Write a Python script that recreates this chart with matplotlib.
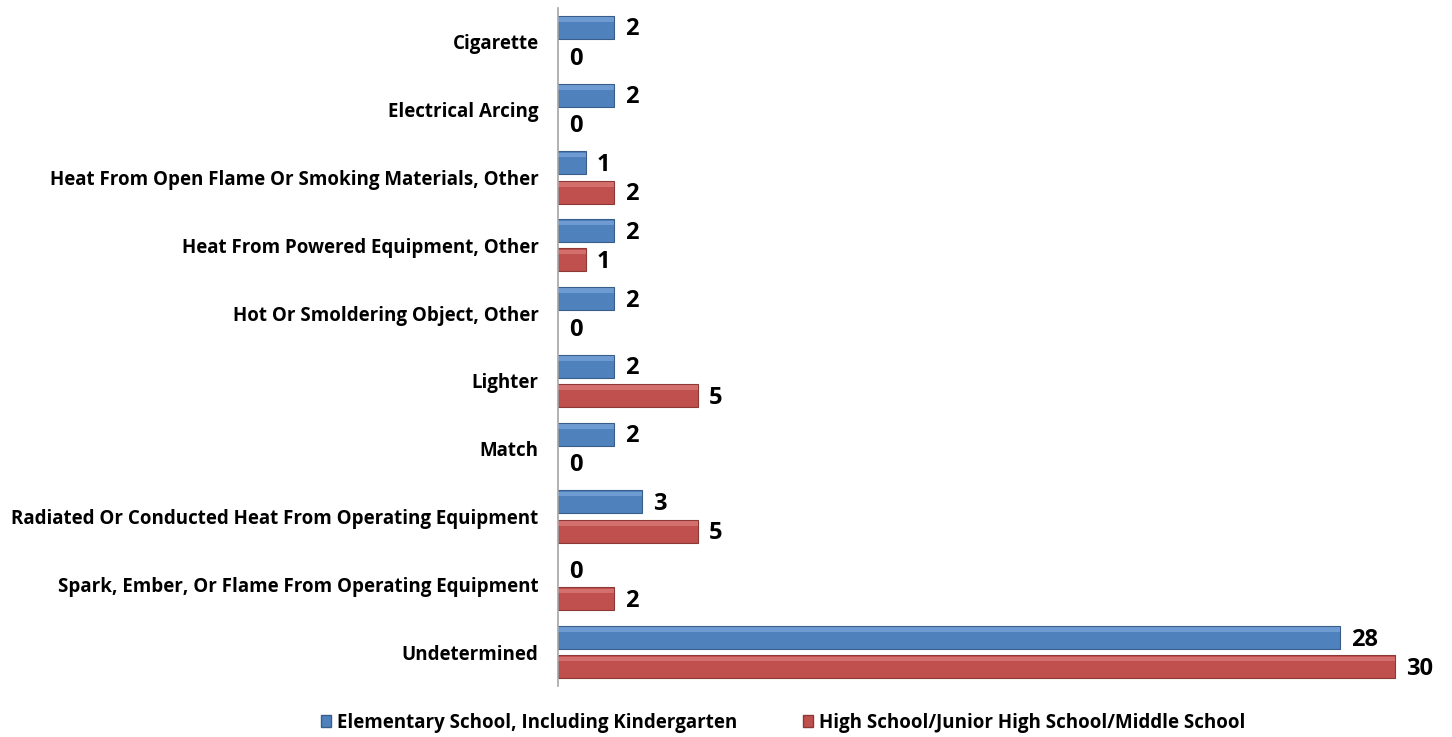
import matplotlib
matplotlib.use("Agg")
import matplotlib.pyplot as plt
import numpy as np
from matplotlib.patches import Patch

categories = [
    "Cigarette",
    "Electrical Arcing",
    "Heat From Open Flame Or Smoking Materials, Other",
    "Heat From Powered Equipment, Other",
    "Hot Or Smoldering Object, Other",
    "Lighter",
    "Match",
    "Radiated Or Conducted Heat From Operating Equipment",
    "Spark, Ember, Or Flame From Operating Equipment",
    "Undetermined",
]
elementary = [2, 2, 1, 2, 2, 2, 2, 3, 0, 28]
high_school = [0, 0, 2, 1, 0, 5, 0, 5, 2, 30]
series_names = ["Elementary School, Including Kindergarten",
                "High School/Junior High School/Middle School"]

blue = "#4F81BD"
red = "#C0504D"
blue_edge = "#385D8A"
red_edge = "#8C3836"

plt.rcParams['font.family'] = ['Open Sans', 'DejaVu Sans']

fig = plt.figure(figsize=(14.52, 7.37), dpi=100)
ax = fig.add_axes([558/1452, 51/737, 882/1452, 678/737])

y = np.arange(len(categories))
h = 0.34
off = 0.215


def draw(vals, ypos, color, edge, hi):
    lw = [0.8 if v > 0 else 0 for v in vals]
    ax.barh(ypos, vals, height=h, color=color, edgecolor=edge, linewidth=lw, zorder=2)
    # light top highlight for a bevel look
    ax.barh(ypos - h * 0.34, vals, height=h * 0.2, color=hi, linewidth=0, alpha=0.4, zorder=3)
    for yi, v in zip(ypos, vals):
        ax.text(v + 0.4, yi + 0.03, str(v), va='center', ha='left', fontsize=17, fontweight='bold')


draw(elementary, y - off, blue, blue_edge, "#9DC3F0")
draw(high_school, y + off, red, red_edge, "#F0A09E")

ax.set_xlim(0, 31.6)
ax.set_ylim(9.5, -0.5)
ax.set_yticks(y)
ax.set_yticklabels(categories, fontsize=13.5, fontweight='bold')
ax.tick_params(axis='y', length=0, pad=14)
ax.set_xticks([])
for s in ['top', 'right', 'bottom']:
    ax.spines[s].set_visible(False)
ax.spines['left'].set_color('#A6A6A6')
ax.spines['left'].set_linewidth(1.2)

handles = [Patch(facecolor=blue, edgecolor=blue_edge), Patch(facecolor=red, edgecolor=red_edge)]
fig.legend(handles, series_names, loc='center', bbox_to_anchor=(783/1452, 14/737), ncol=2,
           frameon=False, prop={'weight': 'bold', 'size': 13.5}, handlelength=0.55,
           handleheight=0.6, handletextpad=0.3, columnspacing=3.5)

fig.savefig("out.png", dpi=100)
